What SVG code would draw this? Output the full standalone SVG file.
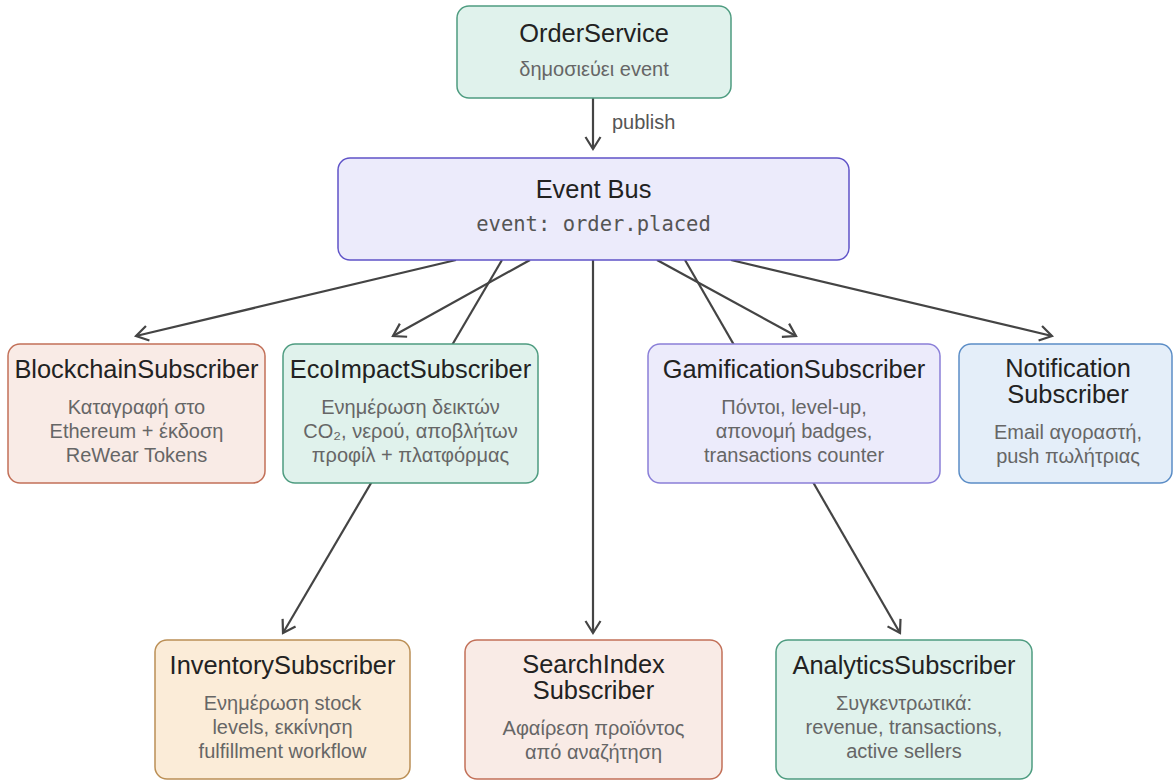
<svg xmlns="http://www.w3.org/2000/svg" width="1173" height="780" viewBox="0 0 1173 780">
<defs>
<marker id="arr" markerUnits="userSpaceOnUse" markerWidth="30" markerHeight="30" viewBox="-15 -15 30 30" refX="0" refY="0" orient="auto">
<path d="M -12 -7.5 L 0 0 L -12 7.5" fill="none" stroke="#444" stroke-width="2.2" stroke-linejoin="miter"/>
</marker>
<style>
.box{stroke-width:1.5}
.green{fill:#e0f2ec;stroke:#4e9c80}
.lav{fill:#ecebfb;stroke:#8a7fd8}
.bus{fill:#ecebfb;stroke:#5f53c8}
.coral{fill:#f9ebe6;stroke:#c27058}
.blue{fill:#e4eef9;stroke:#5b8dc6}
.orange{fill:#fbecd8;stroke:#bb8f55}
.t{font-family:"Liberation Sans",Arial,sans-serif;font-size:25.4px;fill:#222;text-anchor:middle}
.s{font-family:"Liberation Sans",Arial,sans-serif;font-size:20px;fill:#666;text-anchor:middle}
.m{font-family:"DejaVu Sans Mono","Liberation Mono",monospace;font-size:20.5px;fill:#555;text-anchor:middle}
.lbl{font-family:"Liberation Sans",Arial,sans-serif;font-size:20px;fill:#555}
.c{stroke:#444;stroke-width:2.2;fill:none}
</style>
</defs>
<g id="connectors">
<line class="c" x1="593" y1="98" x2="593" y2="149" marker-end="url(#arr)"/>
<text class="lbl" x="612" y="129">publish</text>
<line class="c" x1="456" y1="260" x2="136" y2="336" marker-end="url(#arr)"/>
<line class="c" x1="530" y1="260" x2="393" y2="336" marker-end="url(#arr)"/>
<line class="c" x1="502" y1="260" x2="283" y2="633" marker-end="url(#arr)"/>
<line class="c" x1="593" y1="260" x2="593" y2="633" marker-end="url(#arr)"/>
<line class="c" x1="657" y1="260" x2="796" y2="336" marker-end="url(#arr)"/>
<line class="c" x1="685" y1="260" x2="900" y2="633" marker-end="url(#arr)"/>
<line class="c" x1="731" y1="260" x2="1052" y2="336" marker-end="url(#arr)"/>
</g>
<g id="OrderService">
<rect class="box green" x="457" y="6" width="274" height="92" rx="12"/>
<text class="t" x="594" y="42">OrderService</text>
<text class="s" x="594" y="76">δημοσιεύει event</text>
</g>
<g id="EventBus">
<rect class="box bus" x="338" y="158" width="511" height="102" rx="12"/>
<text class="t" x="593.5" y="198">Event Bus</text>
<text class="m" x="593.5" y="231">event: order.placed</text>
</g>
<g id="BlockchainSubscriber">
<rect class="box coral" x="8" y="344" width="257" height="139" rx="12"/>
<text class="t" x="136.5" y="378">BlockchainSubscriber</text>
<text class="s" x="136.5" y="414">Καταγραφή στο</text>
<text class="s" x="136.5" y="438">Ethereum + έκδοση</text>
<text class="s" x="136.5" y="462">ReWear Tokens</text>
</g>
<g id="EcoImpactSubscriber">
<rect class="box green" x="283" y="344" width="255" height="139" rx="12"/>
<text class="t" x="410.5" y="378">EcoImpactSubscriber</text>
<text class="s" x="410.5" y="414">Ενημέρωση δεικτών</text>
<text class="s" x="410.5" y="438">CO₂, νερού, αποβλήτων</text>
<text class="s" x="410.5" y="462">προφίλ + πλατφόρμας</text>
</g>
<g id="GamificationSubscriber">
<rect class="box lav" x="648" y="344" width="292" height="139" rx="12"/>
<text class="t" x="794" y="378">GamificationSubscriber</text>
<text class="s" x="794" y="414">Πόντοι, level-up,</text>
<text class="s" x="794" y="438">απονομή badges,</text>
<text class="s" x="794" y="462">transactions counter</text>
</g>
<g id="NotificationSubscriber">
<rect class="box blue" x="959" y="344" width="213" height="139" rx="12"/>
<text class="t" x="1068" y="377">Notification</text>
<text class="t" x="1068" y="403">Subscriber</text>
<text class="s" x="1068" y="439">Email αγοραστή,</text>
<text class="s" x="1068" y="463">push πωλήτριας</text>
</g>
<g id="InventorySubscriber">
<rect class="box orange" x="155" y="640" width="255" height="139" rx="12"/>
<text class="t" x="282.5" y="674">InventorySubscriber</text>
<text class="s" x="282.5" y="710">Ενημέρωση stock</text>
<text class="s" x="282.5" y="734">levels, εκκίνηση</text>
<text class="s" x="282.5" y="758">fulfillment workflow</text>
</g>
<g id="SearchIndexSubscriber">
<rect class="box coral" x="465" y="640" width="257" height="139" rx="12"/>
<text class="t" x="593.5" y="673">SearchIndex</text>
<text class="t" x="593.5" y="699">Subscriber</text>
<text class="s" x="593.5" y="735">Αφαίρεση προϊόντος</text>
<text class="s" x="593.5" y="759">από αναζήτηση</text>
</g>
<g id="AnalyticsSubscriber">
<rect class="box green" x="776" y="640" width="256" height="139" rx="12"/>
<text class="t" x="904" y="674">AnalyticsSubscriber</text>
<text class="s" x="904" y="710">Συγκεντρωτικά:</text>
<text class="s" x="904" y="734">revenue, transactions,</text>
<text class="s" x="904" y="758">active sellers</text>
</g>
</svg>
